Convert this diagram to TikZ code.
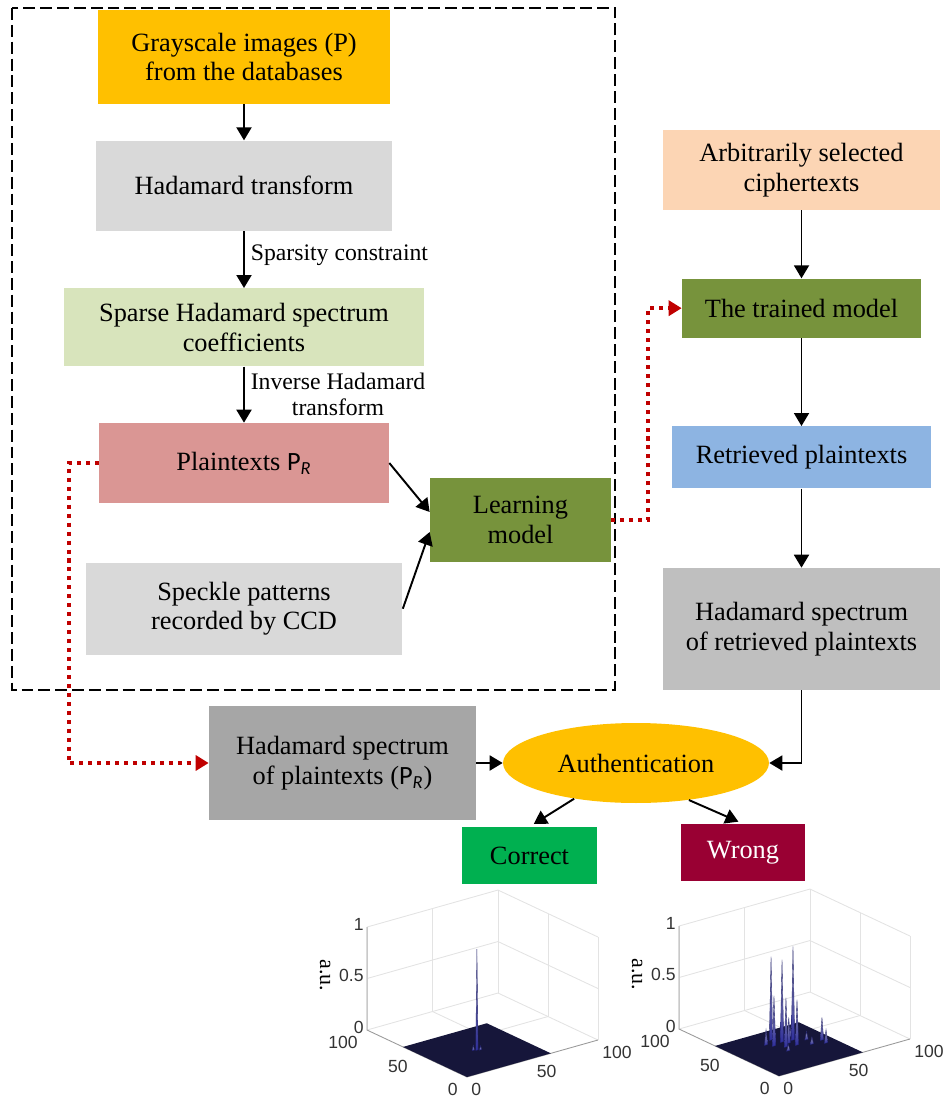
\documentclass[tikz,border=0pt]{standalone}
\usepackage{fontspec}
\setmainfont{Liberation Serif}
\newfontfamily\calfont{Carlito}
\newfontfamily\plotfont{Liberation Sans}
\usepackage{tikz}
\usetikzlibrary{arrows.meta,positioning,shapes.geometric}

\definecolor{cgold}{HTML}{FFC000}
\definecolor{clgray}{HTML}{D9D9D9}
\definecolor{clgreen}{HTML}{D8E4BC}
\definecolor{cpink}{HTML}{DA9694}
\definecolor{colive}{HTML}{77933C}
\definecolor{cpeach}{HTML}{FCD5B4}
\definecolor{cblue}{HTML}{8DB4E2}
\definecolor{cmgray}{HTML}{BFBFBF}
\definecolor{cdgray}{HTML}{A6A6A6}
\definecolor{cgreen}{HTML}{00B050}
\definecolor{cwine}{HTML}{990033}
\definecolor{cred}{HTML}{C00000}
\definecolor{cfloor}{HTML}{16163A}
\definecolor{cspike}{HTML}{2E2E9A}
\definecolor{ctop}{HTML}{A8A8B8}
\definecolor{cgrid}{HTML}{E3E3E3}
\definecolor{caxis}{HTML}{9A9A9A}

% frame, grid and tick labels of one surface plot
\newcommand{\plotframe}{%
  \foreach \vv in {0,50,100} {
    \draw[gridln] (\vv,100,0) -- (\vv,100,1);
    \draw[gridln] (100,\vv,0) -- (100,\vv,1);
  }
  \foreach \zz in {0,0.5,1}
    \draw[gridln] (0,100,\zz) -- (100,100,\zz) -- (100,0,\zz);
  \draw[gridln] (50,0,0) -- (50,100,0);
  \draw[gridln] (0,50,0) -- (100,50,0);
  \draw[caxis, line width=0.5pt] (0,100,1) -- (0,100,0) -- (0,0,0) -- (100,0,0);
  \fill[cfloor] (0,0,0) -- (64,0,0) -- (64,64,0) -- (0,64,0) -- cycle;
  \foreach \zz in {0,0.5,1}
    \node[axlbl, anchor=east, inner sep=0pt, xshift=-0.06cm, yshift=0.06cm] at (0,100,\zz) {\zz};
  \foreach \vv in {0,50,100} {
    \node[axlbl, anchor=north east, inner sep=0pt, xshift=-0.18cm, yshift=-0.12cm] at (0,\vv,0) {\vv};
    \node[axlbl, anchor=north west, inner sep=0pt, xshift=0.08cm, yshift=-0.12cm] at (\vv,0,0) {\vv};
  }
  \node[font=\fontsize{12.5}{14}\selectfont, rotate=-90] at ([xshift=-0.84cm]0,100,0.53) {a.u.};
}

\begin{document}
\begin{tikzpicture}[
  x=0.02cm, y=-0.02cm,
  font=\fontsize{15}{17}\selectfont,
  box/.style={rectangle, align=center, inner sep=2pt},
  arr/.style={-{Triangle[length=2.6mm,width=3mm]}, line width=1.1pt},
  redarr/.style={-{Triangle[length=2.6mm,width=3mm]}, cred, line width=2.3pt,
    dash pattern=on 2.3pt off 2.8pt},
  note/.style={font=\fontsize{13.5}{15}\selectfont, align=center},
  axlbl/.style={font=\plotfont\fontsize{10}{12}\selectfont, text=black!80},
  gridln/.style={cgrid, line width=0.5pt},
  spike/.style={top color=ctop, bottom color=cspike, draw=cspike!70!black, line width=0.2pt}
]
\useasboundingbox (0,0) rectangle (945,1098);

% left column
\node[box, fill=cgold, minimum width=5.84cm, minimum height=1.88cm] (gray) at (244,57) {Grayscale images (P)\\from the databases};
\node[box, fill=clgray, minimum width=5.92cm, minimum height=1.8cm, below=0.72cm of gray] (had) {Hadamard transform};
\node[box, fill=clgreen, minimum width=7.2cm, minimum height=1.56cm, below=1.14cm of had] (sparse) {Sparse Hadamard spectrum\\coefficients};
\node[box, fill=cpink, minimum width=5.8cm, minimum height=1.6cm, below=1.12cm of sparse] (plain) {Plaintexts {\calfont P\textsubscript{\itshape R}}};
\node[box, fill=clgray, minimum width=6.34cm, minimum height=1.84cm, below=1.18cm of plain] (speck) {Speckle patterns\\recorded by CCD};
\node[box, fill=colive, minimum width=3.62cm, minimum height=1.68cm] (learn) at (520.5,520) {Learning\\model};
\draw[line width=0.8pt, dash pattern=on 6.8pt off 2.8pt] (12,8) rectangle (615,690);

% right column
\node[box, fill=cpeach, minimum width=5.54cm, minimum height=1.6cm] (arb) at (801.5,170) {Arbitrarily selected\\ciphertexts};
\node[box, fill=colive, minimum width=4.78cm, minimum height=1.18cm, below=1.36cm of arb] (model) {The trained model};
\node[box, fill=cblue, minimum width=5.18cm, minimum height=1.24cm, below=1.76cm of model] (retr) {Retrieved plaintexts};
\node[box, fill=cmgray, minimum width=5.56cm, minimum height=2.44cm, below=1.58cm of retr] (hsr) {Hadamard spectrum\\of retrieved plaintexts};

% bottom
\node[box, fill=cdgray, minimum width=5.34cm, minimum height=2.28cm] (hsp) at (342.5,763) {Hadamard spectrum\\of plaintexts ({\calfont P\textsubscript{\itshape R}})};
\node[ellipse, fill=cgold, minimum width=5.32cm, minimum height=1.6cm, inner sep=1pt] (auth) at (636,763) {Authentication};
\node[box, fill=cgreen, minimum width=2.7cm, minimum height=1.14cm] (ok) at (529.5,855.5) {Correct};
\node[box, fill=cwine, text=white, minimum width=2.48cm, minimum height=1.14cm] (bad) at (743,852.5) {Wrong};

\draw[arr] (gray) -- (had);
\draw[arr] (had) -- node[note, right, pos=0.42] {Sparsity constraint} (sparse);
\draw[arr] (sparse) -- node[note, right] {Inverse Hadamard\\transform} (plain);
\draw[arr] (plain.east) -- ([yshift=0.16cm]learn.west);
\draw[arr] (speck.east) -- ([yshift=-0.24cm]learn.west);
\draw[redarr] (learn.east) -- ++(0.74cm,0) |- (model.west);
\draw[redarr] (plain.west) -- ++(-0.6cm,0) |- (hsp.west);
\draw[arr] (arb) -- (model);
\draw[arr] (model) -- (retr);
\draw[arr] (retr) -- (hsr);
\draw[arr] (hsr.south) |- (auth.east);
\draw[arr] (hsp.east) -- (auth.west);
\draw[arr, shorten >=0.1cm] (auth.210) -- (ok.north);
\draw[arr, shorten >=0.1cm] (auth.325) -- (bad.north);

% surface plot under Correct
\begin{scope}[shift={(467,1077)}, x={(0.0262cm,0.0074cm)}, y={(-0.02cm,0.0094cm)}, z={(0cm,2.06cm)}]
\plotframe
\foreach \px/\py/\ph in {30/33/0.05, 34/31/0.04, 32/32/0.98}
  \shade[spike] (\px-0.9,\py,0) -- (\px,\py,\ph) -- (\px+0.9,\py,0) -- cycle;
\end{scope}

% surface plot under Wrong
\begin{scope}[shift={(779,1076)}, x={(0.0262cm,0.0074cm)}, y={(-0.02cm,0.0094cm)}, z={(0cm,2.06cm)}]
\plotframe
\foreach \px/\py/\ph in {45/48/0.1, 32.7/50.8/0.81, 25.3/46.1/0.15, 35.9/44/0.8, 43.2/42.6/0.91,
    28/41.7/0.49, 38/40/0.25, 50/38/0.08, 32.8/36/0.48, 40/34.4/0.44, 57/31.7/0.22,
    48/30/0.07, 30/30/0.06, 55.9/26.2/0.13}
  \shade[spike] (\px-1.3,\py,0) -- (\px,\py,\ph) -- (\px+1.3,\py,0) -- cycle;
\end{scope}
\end{tikzpicture}
\end{document}
